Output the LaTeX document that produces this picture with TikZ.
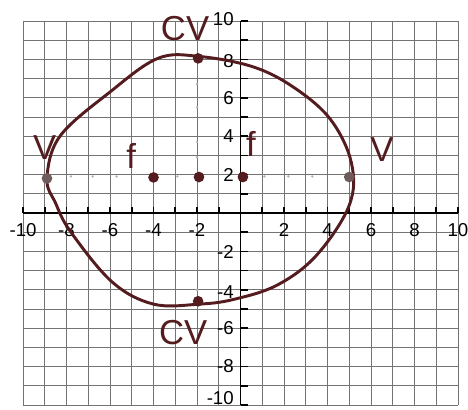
\documentclass[tikz,border=0pt]{standalone}
\usepackage{fontspec}
\setmainfont{Liberation Sans}
\usepackage{tikz}
\usetikzlibrary{positioning}
\definecolor{inkred}{RGB}{84,28,30}
\definecolor{inkgray}{RGB}{110,92,92}
\tikzset{
  gridline/.style={black!55,line width=0.6pt},
  axisline/.style={black,line width=1.4pt},
  tickmark/.style={black,line width=1.2pt},
  numlab/.style={font=\fontsize{14}{14}\selectfont,inner sep=0pt},
  handlab/.style={font=\fontsize{26}{26}\selectfont,text=inkred,inner sep=0pt},
  bigdot/.style={circle,fill=inkred,inner sep=0pt,minimum size=8pt},
  vdot/.style={circle,fill=inkgray,inner sep=0pt,minimum size=8pt},
  tinydot/.style={circle,fill=gray!60,inner sep=0pt,minimum size=2pt},
  curve/.style={inkred,line width=2.2pt,line join=round},
}

\begin{document}
\begin{tikzpicture}[x=16.31pt,y=14.4pt]
  \useasboundingbox (-11.06,-10.26) rectangle (10.46,11.09);
  %% Grid
  \foreach \i in {-10,...,10}{
    \draw[gridline] (\i,-10) -- (\i,10);
    \draw[gridline] (-10,\i) -- (10,\i);
  }
  %% Axes and ticks
  \draw[axisline] (-10,0) -- (10,0);
  \draw[axisline] (0,-10) -- (0,10);
  \foreach \i in {-10,...,10}{
    \draw[tickmark] (\i,0) -- (\i,0.32);
    \draw[tickmark] (0,\i) -- (0.33,\i);
  }
  %% Axis numbers
  \foreach \v [count=\k] in {-10,-8,-6,-4,-2,2,4,6,8,10}{
    \node[numlab] (xl\k) at (\v,-0.9) {\v};
  }
  \foreach \v/\p [count=\k] in {-10/-9.65,-8/-8,-6/-6,-4/-4.1,-2/-2.05,
                                2/2,4/4,6/6,8/7.9,10/10.1}{
    \node[numlab,anchor=east] (yl\k) at (-0.3,\p) {\v};
  }
  %% Dotted guide marks
  \foreach \x [count=\k] in {-7.8,-6.8,-5.7,-2.9,1.1,2.2,3.3}{
    \node[tinydot] (hd\k) at (\x,1.9) {};
  }
  \foreach \y [count=\k] in {6.7,5.5,3.7,2.9,-4.0}{
    \node[tinydot] (vd\k) at (-2,\y) {};
  }
  %% Hand-drawn ellipse
  \draw[curve] plot[smooth cycle,tension=0.6] coordinates {
    (-8.9,1.8) (-8.3,4.0) (-6.0,6.3) (-3.8,8.05) (-1.9,8.15)
    (0.6,7.6) (2.5,6.5) (4.15,4.85) (5.1,2.6) (5.0,0.4)
    (3.5,-2.2) (1.7,-3.75) (-0.3,-4.5) (-1.9,-4.75) (-4.0,-4.75)
    (-5.9,-3.6) (-7.8,-1.0) (-8.5,0.5)};
  %% Marked points
  \node[bigdot] (cvtop) at (-1.95,8.05) {};
  \node[bigdot] (cvbot) at (-1.95,-4.6) {};
  \node[vdot] (vleft) at (-8.9,1.8) {};
  \node[vdot] (vright) at (5.0,1.87) {};
  \node[bigdot] (fleft) at (-4,1.85) {};
  \node[bigdot] (center) at (-1.91,1.87) {};
  \node[bigdot] (fright) at (0.11,1.87) {};
  %% Hand labels
  \node[handlab] (cvtoplab) at (-2.55,9.6) {CV};
  \node[handlab] (cvbotlab) at (-2.64,-6.25) {CV};
  \node[handlab] (vleftlab) at (-9.0,3.4) {V};
  \node[handlab] (vrightlab) at (6.5,3.3) {V};
  \node[handlab] (fleftlab) at (-5.03,2.97) {f};
  \node[handlab] (frightlab) at (0.48,3.6) {f};
\end{tikzpicture}
\end{document}
